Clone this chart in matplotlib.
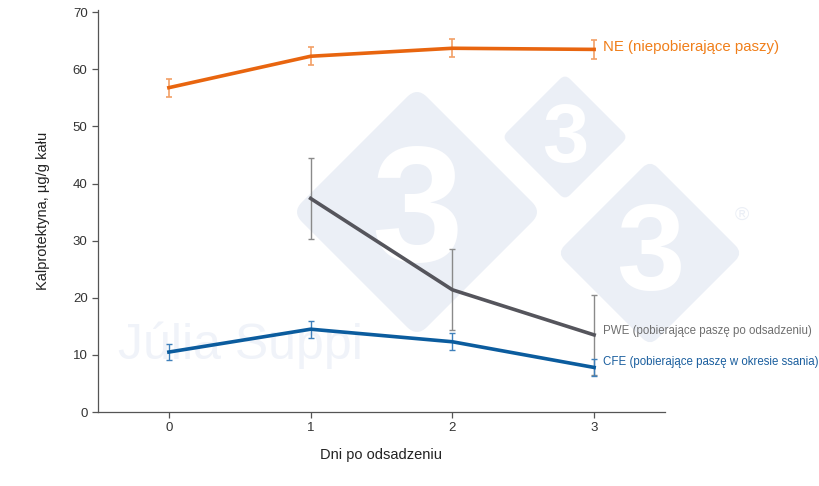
import matplotlib.pyplot as plt
import numpy as np
from matplotlib.patches import FancyBboxPatch
import matplotlib.transforms as mtransforms

plt.rcParams["font.family"] = ["Liberation Sans", "DejaVu Sans"]

# Data
days = [0, 1, 2, 3]
ne_vals = [56.8, 62.3, 63.7, 63.5]
ne_err = [1.6, 1.6, 1.6, 1.6]
pwe_days = [1, 2, 3]
pwe_vals = [37.4, 21.4, 13.5]
pwe_err = [7.1, 7.1, 7.0]
cfe_vals = [10.5, 14.5, 12.3, 7.8]
cfe_err = [1.4, 1.5, 1.5, 1.5]

ne_label = "NE (niepobierające paszy)"
pwe_label = "PWE (pobierające paszę po odsadzeniu)"
cfe_label = "CFE (pobierające paszę w okresie ssania)"

fig = plt.figure(figsize=(8.2, 4.86), dpi=100)

# watermark layer in pixel coordinates
bg = fig.add_axes([0, 0, 1, 1], zorder=0)
bg.set_xlim(0, 820)
bg.set_ylim(486, 0)
bg.axis("off")
wm = "#ebeff6"
for cx, cy, half in [(417, 212, 125), (565, 137, 63), (650, 253, 93)]:
    side = half * np.sqrt(2)
    tr = mtransforms.Affine2D().rotate_deg_around(cx, cy, 45) + bg.transData
    p = FancyBboxPatch((cx - side / 2, cy - side / 2), side, side,
                       boxstyle="round,pad=0,rounding_size=%f" % (side * 0.08),
                       fc=wm, ec="none", transform=tr)
    bg.add_patch(p)
    bg.text(cx, cy + half * 0.05, "3", fontsize=half * 0.95, fontweight="bold",
            color="white", ha="center", va="center")
bg.text(742, 215, "®", fontsize=14, color=wm, ha="center", va="center")
bg.text(240, 345, "Júlia Suppi", fontsize=36, color="#f0f3f9", ha="center", va="center")

ax = fig.add_axes([98 / 820, 1 - 412 / 486, 567 / 820, 402 / 486], zorder=1)
ax.patch.set_alpha(0)

orange = "#e8650f"
gray = "#55555c"
blue = "#0b5c9e"

ax.errorbar(days, ne_vals, yerr=ne_err, color=orange, lw=2.6, ecolor="#f2a066",
            elinewidth=1.2, capsize=2.5, capthick=1.2)
ax.errorbar(pwe_days, pwe_vals, yerr=pwe_err, color=gray, lw=2.6, ecolor="#8a8a8a",
            elinewidth=1.0, capsize=2.5, capthick=1.0)
ax.errorbar(days, cfe_vals, yerr=cfe_err, color=blue, lw=2.6, ecolor="#3f80bb",
            elinewidth=1.0, capsize=2.5, capthick=1.0)

ax.text(3.06, ne_vals[-1] + 0.4, ne_label, color="#f07f1a", fontsize=10.8, va="center")
ax.text(3.06, pwe_vals[-1] + 0.6, pwe_label, color="#6f6f6f", fontsize=8.3, va="center")
ax.text(3.06, cfe_vals[-1] + 0.9, cfe_label, color="#1a5e9e", fontsize=8.3, va="center")

ax.set_xlim(-0.5, 3.5)
ax.set_ylim(0, 70.4)
ax.set_xticks(days)
ax.set_yticks(range(0, 71, 10))
for s in ["top", "right"]:
    ax.spines[s].set_visible(False)
for s in ["left", "bottom"]:
    ax.spines[s].set_color("#555555")
    ax.spines[s].set_linewidth(0.9)
ax.tick_params(colors="#555555", labelcolor="#333333", labelsize=9.5, length=4, width=0.9)
ax.set_xlabel("Dni po odsadzeniu", fontsize=10.5, color="#222222", labelpad=10)
ax.set_ylabel("Kalprotektyna, µg/g kału", fontsize=10.5, color="#222222", labelpad=16)

fig.savefig("out.png", dpi=100)
